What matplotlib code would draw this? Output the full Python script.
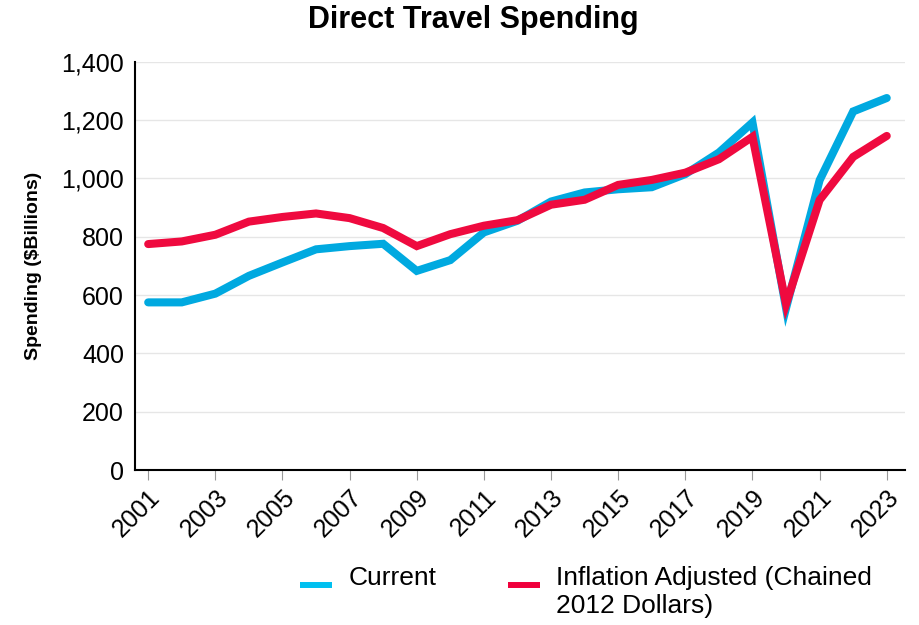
import numpy as np
import matplotlib.pyplot as plt
from matplotlib.lines import Line2D

# Dados (bilhões de dólares)
years = list(range(2001, 2024))
current = [575, 575, 605, 666, 712, 757, 768, 776, 683, 720, 815, 855, 921, 952, 963,
           970, 1015, 1089, 1192, 555, 994, 1230, 1276]
inflation_adj = [775, 784, 807, 852, 868, 880, 864, 830, 768, 809, 838, 857, 910, 927, 978,
                 995, 1020, 1066, 1143, 569, 926, 1074, 1146]
yticks = [0, 200, 400, 600, 800, 1000, 1200, 1400]

plt.rcParams['font.family'] = ['Liberation Sans', 'DejaVu Sans']

W, H = 919, 625
fig = plt.figure(figsize=(W / 100, H / 100), dpi=100)
ax = fig.add_axes([0.147, 0.248, 0.838, 0.653])

blue, red = '#00A9E0', '#EF0A3F'
ax.plot(years, current, color=blue, lw=5.8, solid_capstyle='round',
        solid_joinstyle='miter', zorder=3)
ax.plot(years, inflation_adj, color=red, lw=5.8, solid_capstyle='round',
        solid_joinstyle='miter', zorder=4)

ax.set_ylim(0, 1400)
ax.set_xlim(2000.61, 2023.55)
ax.set_yticks(yticks)
ax.set_yticklabels([f'{v:,}' for v in yticks], fontsize=18)
ax.tick_params(axis='y', length=0, pad=8)
ax.set_xticks(years[::2])
ax.set_xticklabels([str(y) for y in years[::2]], fontsize=18, rotation=45,
                   ha='right', rotation_mode='anchor')
ax.tick_params(axis='x', length=7, color='#999999', pad=4)
ax.grid(axis='y', color='#E6E6E6', lw=1)
ax.set_axisbelow(True)
for s in ['top', 'right']:
    ax.spines[s].set_visible(False)
for s in ['left', 'bottom']:
    ax.spines[s].set_linewidth(1.5)

ax.set_ylabel('Spending ($Billions)', fontsize=14, fontweight='bold', labelpad=14)
fig.text(473 / W, 1 - 28 / H, 'Direct Travel Spending', ha='center', va='baseline',
         fontsize=22, fontweight='bold')

# Legenda manual (texto alinhado pelo topo, como no original)
legend_items = [('Current', '#00C0F0', 300, 349),
                ('Inflation Adjusted (Chained\n2012 Dollars)', '#F0003C', 508, 556)]
for label, color, hx, tx in legend_items:
    fig.add_artist(Line2D([hx / W, (hx + 32) / W], [1 - 584.5 / H, 1 - 584.5 / H],
                          color=color, lw=4.3, solid_capstyle='butt'))
    fig.text(tx / W, 1 - 566 / H, label, ha='left', va='top', fontsize=19,
             linespacing=1.2)

plt.savefig('out.png', dpi=100)
